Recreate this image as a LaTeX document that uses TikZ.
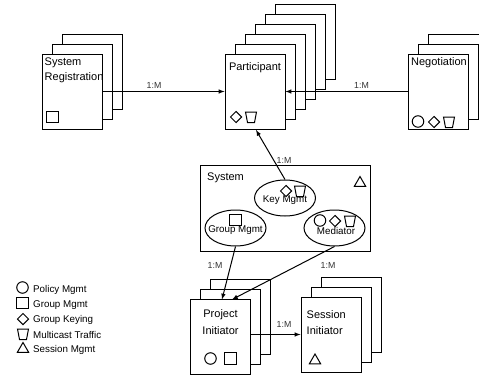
\documentclass[tikz,border=0pt]{standalone}
\usepackage{fontspec}
\setmainfont{Liberation Sans}
\usetikzlibrary{shapes.geometric}
\usetikzlibrary{calc}
\tikzset{
	sheet/.style={draw,fill=white,line width=1pt,minimum width=60pt,minimum height=75pt,inner sep=0pt},
	bubble/.style={draw,ellipse,fill=white,line width=1pt,minimum width=61pt,minimum height=36pt,inner sep=0pt},
	txt/.style={inner sep=0pt,font=\fontsize{11}{12}\selectfont},
	small/.style={inner sep=0pt,font=\fontsize{9.8}{10}\selectfont},
	card/.style={inner sep=0pt,font=\fontsize{8.8}{9}\selectfont,text=black!80},
	link/.style={-latex,line width=1pt},
	sym/.style={draw,line width=1pt,inner sep=0pt},
	pol/.style={sym,circle,minimum size=11.5pt},
	grp/.style={sym,rectangle,minimum size=11.5pt},
	key/.style={sym,diamond,minimum size=11.5pt},
	mct/.pic={\draw[line width=1pt] (-5.5,-5) -- (5.5,-5) -- (3.5,5.5) -- (-3.5,5.5) -- cycle;},
	ses/.style={sym,regular polygon,regular polygon sides=3,minimum size=13pt},
}
\begin{document}
\begin{tikzpicture}[x=1pt,y=-1pt]
	\useasboundingbox (0,0) rectangle (479,375);
	\clip (0,0) rectangle (479,375);
	% stacks of sheets
	\foreach \i in {2,1} {
		\node[sheet] at ({72+10*\i},{91.5-10*\i}) {};
		\node[sheet] at ({438.5+10*\i},{91.5-10*\i}) {};
		\node[sheet] at ({220.5+10*\i},{336.5-10*\i}) {};
		\node[sheet] at ({331+10*\i},{334.5-10*\i}) {};
	}
	\foreach \i in {5,4,3,2,1} {
		\node[sheet] at ({255+10*\i},{91.5-10*\i}) {};
	}
	\node[sheet] (sysreg) at (72,91.5) {};
	\node[sheet] (part) at (255,91.5) {};
	\node[sheet] (nego) at (438.5,91.5) {};
	\node[sheet] (proj) at (220.5,336.5) {};
	\node[sheet] (sess) at (331,334.5) {};
	\node[draw,line width=1pt,minimum width=170pt,minimum height=86pt,inner sep=0pt] (sys) at (285,208) {};
	\node[bubble] (keym) at (285,198) {};
	\node[bubble] (grpm) at (235.5,228) {};
	\node[bubble] (medi) at (334.5,228) {};
	% titles
	\node[txt,anchor=west] (t1) at (44.5,63) {System};
	\node[txt,anchor=west] (t2) at (44.5,78) {Registration};
	\node[txt] (t3) at (255,68) {Participant};
	\node[txt] (t4) at (439,63) {Negotiation};
	\node[txt,anchor=west] (t5) at (207,178) {System};
	\node[txt] (t6) at (220.5,315) {Project};
	\node[txt] (t7) at (220.5,330.5) {Initiator};
	\node[txt,anchor=west] (t8) at (306.5,315) {Session};
	\node[txt,anchor=west] (t9) at (306.5,330.5) {Initiator};
	\node[small] (k1) at (285,200.5) {Key Mgmt};
	\node[small] (g1) at (235.5,230.5) {Group Mgmt};
	\node[small] (m1) at (336,231) {Mediator};
	% symbols
	\node[grp] (s1) at (52.5,117) {};
	\node[key] (s2) at (236,117) {};
	\pic (s3) at (251,117) {mct};
	\node[pol] (s4) at (418,121.5) {};
	\node[key] (s5) at (434,122) {};
	\pic (s6) at (449,122) {mct};
	\node[ses] (s7) at (360,183) {};
	\node[key] (s8) at (286,191) {};
	\pic (s9) at (300,191) {mct};
	\node[grp] (s10) at (235.5,220) {};
	\node[pol] (s11) at (320,220.5) {};
	\node[key] (s12) at (335,221) {};
	\pic (s13) at (350,221) {mct};
	\node[pol] (s14) at (210.5,358.5) {};
	\node[grp] (s15) at (230.5,358.5) {};
	\node[ses] (s16) at (315,360.5) {};
	% links
	\draw[link] (sysreg.east) -- (part.west);
	\draw[link] (nego.west) -- (part.east);
	\draw[link] (keym.north) -- (256,130);
	\draw[link] (grpm.south) -- (222,299.5);
	\draw[link] (medi.south) -- (232,299.5);
	\draw[link] (proj.east |- sess.west) -- (sess.west);
	\node[card] (c1) at (154,85) {1:M};
	\node[card] (c2) at (361.5,85) {1:M};
	\node[card] (c3) at (284,160) {1:M};
	\node[card] (c4) at (215,265) {1:M};
	\node[card] (c5) at (328,265) {1:M};
	\node[card] (c6) at (284,324) {1:M};
	% legend
	\node[pol] (l1) at (22.5,287.5) {};
	\node[grp] (l2) at (22.5,303) {};
	\node[key] (l3) at (23,319) {};
	\pic (l4) at (23,334) {mct};
	\node[ses] (l5) at (23,349) {};
	\node[small,anchor=west] (n1) at (33,290) {Policy Mgmt};
	\node[small,anchor=west] (n2) at (33,305) {Group Mgmt};
	\node[small,anchor=west] (n3) at (33,320) {Group Keying};
	\node[small,anchor=west] (n4) at (33,335) {Multicast Traffic};
	\node[small,anchor=west] (n5) at (33,350) {Session Mgmt};
\end{tikzpicture}
\end{document}
